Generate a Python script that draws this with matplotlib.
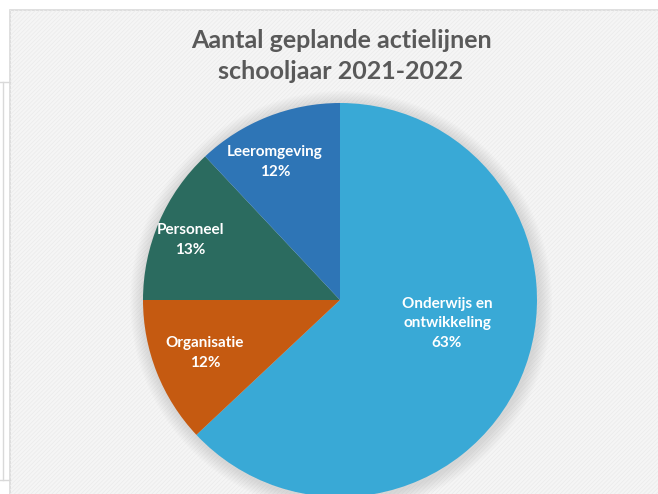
import matplotlib
matplotlib.use("Agg")
import matplotlib.pyplot as plt
from matplotlib.patches import Rectangle, Circle
from matplotlib.lines import Line2D

title = "Aantal geplande actielijnen\nschooljaar 2021-2022"
categories = ["Onderwijs en\nontwikkeling", "Organisatie", "Personeel", "Leeromgeving"]
values = [63, 12, 13, 12]
colors = ["#39A9D6", "#C55A11", "#2B6B5F", "#2E75B6"]
label_pos = [(0.543, -0.117), (-0.685, -0.269), (-0.761, 0.305), (-0.330, 0.700)]

plt.rcParams['hatch.linewidth'] = 0.6
W, H = 658, 494
fig = plt.figure(figsize=(W / 100, H / 100), dpi=100, facecolor="white")

# background frame
bg = fig.add_axes([0, 0, 1, 1])
bg.set_xlim(0, W)
bg.set_ylim(H, 0)
bg.axis("off")
bg.add_patch(Rectangle((10, 10), W, H, facecolor="#F5F5F5", edgecolor="#D9D9D9", lw=1.2))
bg.add_patch(Rectangle((10, 10), W, H, facecolor="none", edgecolor="#ECECEC", lw=0, hatch="////////"))
bg.add_line(Line2D([0, 10], [82, 82], color="#D9D9D9", lw=1))
bg.add_line(Line2D([3, 3], [82, 480], color="#D9D9D9", lw=1))
bg.add_line(Line2D([0, 10], [480, 480], color="#D9D9D9", lw=1))

fig.text(341 / W, 1 - 56 / H, title, ha="center", va="center", fontsize=18,
         fontweight="bold", color="#595959", family="Lato", linespacing=1.38)

cx, cy, r = 340, 300, 197
ax = fig.add_axes([(cx - r) / W, (H - cy - r) / H, 2 * r / W, 2 * r / H])
ax.set_xlim(-1, 1)
ax.set_ylim(-1, 1)
ax.set_aspect("equal")
ax.axis("off")

# soft shadow
for i in range(10):
    ax.add_patch(Circle((0.006, -0.01), 1.0 + 0.007 * (10 - i), facecolor="#A8A8A8",
                        alpha=0.04, lw=0, clip_on=False))

ax.pie(values, colors=colors, startangle=90, counterclock=False, radius=1,
       wedgeprops=dict(linewidth=0))
ax.set_xlim(-1, 1)
ax.set_ylim(-1, 1)

for cat, v, (x, y) in zip(categories, values, label_pos):
    ax.text(x, y, f"{cat}\n{v}%", ha="center", va="center", color="white",
            fontsize=11, fontweight="bold", family="Lato", linespacing=1.5)

fig.savefig("out.png", dpi=100, facecolor="white")
